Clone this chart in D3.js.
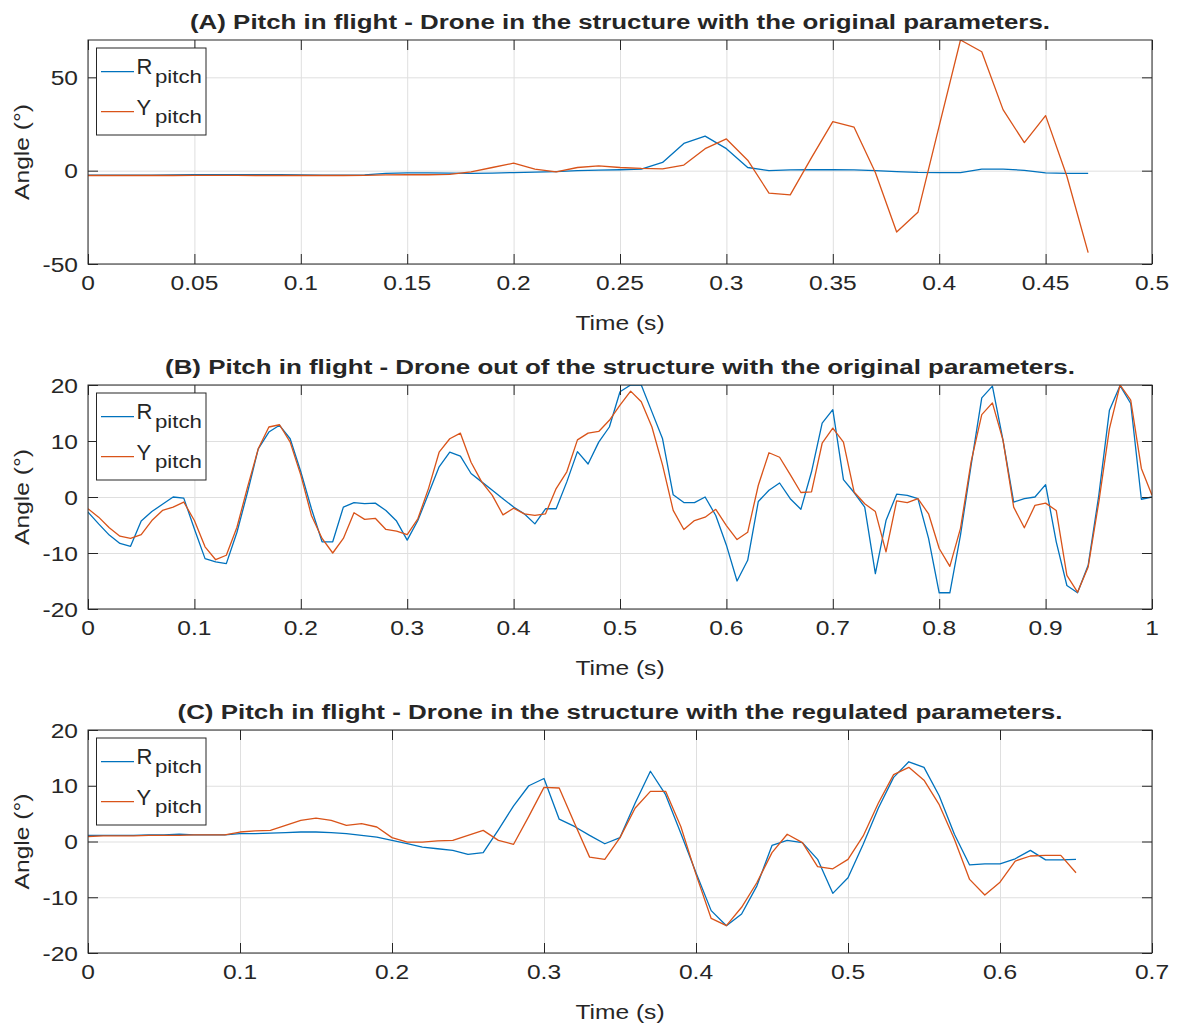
<!DOCTYPE html>
<html>
<head>
<meta charset="utf-8">
<script src="https://cdn.jsdelivr.net/npm/d3@7"></script>
<style>
  html, body { margin: 0; padding: 0; background: #ffffff; }
  svg { display: block; }
  text { font-family: "Liberation Sans", Arial, Helvetica, sans-serif; fill: #262626; }
</style>
</head>
<body>
<svg id="chart" width="1179" height="1029"></svg>
<script>
// ---------------- DATA ----------------
const sampleStep = 0.01;
const seriesNames = ["R", "Y"];
const subscript = "pitch";
const axisLabelX = "Time (s)";
const axisLabelY = "Angle (°)";

const titleA = "(A) Pitch in flight - Drone in the structure with the original parameters.";
const titleB = "(B) Pitch in flight - Drone out of the structure with the original parameters.";
const titleC = "(C) Pitch in flight - Drone in the structure with the regulated parameters.";

// Panel A (t = 0 .. 0.47 s)
const rPitchA = [-2.4,-2.4,-2.4,-2.4,-2.3,-2.1,-2.1,-2.1,-2.1,-2.2,-2.3,-2.4,-2.4,-2.3,
  -1.5,-1.2,-1.2,-1.3,-1.5,-1.3,-1.0,-0.8,-0.5,0.0,0.3,0.5,0.8,4.4,14.6,18.5,11.8,1.7,0.0,
  0.4,0.5,0.5,0.4,0.0,-0.5,-0.9,-1.0,-1.0,0.8,0.8,0.2,-1.2,-1.4,-1.4];
const yPitchA = [-2.6,-2.6,-2.6,-2.6,-2.6,-2.5,-2.5,-2.5,-2.6,-2.6,-2.6,-2.6,-2.6,-2.5,
  -2.3,-2.2,-2.2,-2.0,-0.6,1.7,4.0,0.8,-0.6,1.7,2.6,1.7,1.2,1.0,3.0,11.8,17.0,5.6,-12.0,
  -13.0,7.0,26.3,23.3,-1.0,-32.9,-22.3,24.0,70.0,63.7,32.7,15.0,29.5,-3.0,-43.9];

// Panel B (t = 0 .. 1.00 s)
const rPitchB = [-2.7,-4.8,-6.8,-8.3,-8.8,-4.3,-2.6,-1.3,0.0,-0.2,
  -5.7,-11.0,-11.6,-11.9,-6.3,0.9,8.6,11.6,12.8,10.4,
  4.5,-2.1,-8.0,-8.0,-1.8,-1.0,-1.2,-1.1,-2.4,-4.3,
  -7.7,-4.2,0.6,5.4,8.0,7.3,4.2,2.7,1.2,-0.3,
  -1.8,-3.0,-4.8,-2.1,-2.1,2.7,8.1,5.9,9.8,12.5,
  18.8,20.0,20.0,15.2,10.4,0.4,-1.0,-1.0,0.0,-3.3,
  -8.6,-15.0,-11.3,-0.8,1.2,2.5,-0.3,-2.2,4.5,13.2,
  15.6,3.1,0.8,-1.8,-13.7,-4.2,0.5,0.3,-0.3,-7.4,
  -17.1,-17.1,-6.8,5.7,17.7,19.8,10.1,-0.9,-0.3,0.0,
  2.2,-8.0,-15.8,-17.1,-12.2,0.3,15.5,19.9,16.7,-0.4,0.0];
const yPitchB = [-2.1,-3.6,-5.5,-7.0,-7.4,-6.7,-4.2,-2.4,-1.8,-0.9,
  -4.2,-8.9,-11.2,-10.4,-5.4,1.8,8.6,12.5,12.9,9.8,
  3.9,-3.3,-7.4,-10.0,-7.4,-2.8,-4.0,-3.8,-5.8,-6.1,
  -6.7,-3.9,1.5,8.0,10.4,11.4,6.2,2.7,0.3,-3.2,
  -2.0,-3.0,-3.3,-3.0,1.5,4.5,10.2,11.4,11.7,13.7,
  16.4,18.9,17.0,12.5,5.7,-2.4,-5.8,-4.2,-3.6,-2.2,
  -5.1,-7.6,-6.3,2.1,7.9,7.1,4.0,0.8,0.9,9.6,
  12.3,9.8,0.9,-1.2,-2.6,-9.8,-0.7,-1.0,-0.3,-3.0,
  -9.2,-12.4,-5.6,6.3,14.7,16.8,10.1,-1.8,-5.5,-1.5,
  -1.1,-2.4,-14.0,-17.0,-12.5,-0.9,12.2,20.0,17.3,5.1,0.3];

// Panel C (t = 0 .. 0.65 s)
const rPitchC = [1.1,1.1,1.1,1.1,1.2,1.2,1.3,1.2,1.2,1.2,
  1.4,1.4,1.5,1.6,1.7,1.7,1.6,1.4,1.1,0.8,
  0.2,-0.4,-1.0,-1.3,-1.6,-2.3,-2.0,2.1,6.4,10.0,
  11.3,4.0,2.7,1.1,-0.4,0.7,6.9,12.6,8.4,1.5,
  -5.6,-12.4,-15.1,-13.0,-8.0,-0.7,0.2,-0.2,-3.2,-9.3,
  -6.5,-0.5,6.0,11.5,14.3,13.3,8.2,1.3,-4.2,-4.0,
  -4.0,-3.1,-1.6,-3.3,-3.3,-3.2];
const yPitchC = [0.9,1.0,1.0,1.0,1.1,1.1,1.1,1.2,1.2,1.2,
  1.7,1.9,2.0,2.9,3.8,4.2,3.8,2.9,3.2,2.6,
  0.7,-0.1,-0.1,0.1,0.2,1.1,2.0,0.2,-0.5,4.5,
  9.7,9.6,3.3,-2.8,-3.2,0.7,6.0,9.0,9.0,2.7,
  -5.9,-13.8,-15.1,-11.8,-7.4,-2.0,1.3,-0.2,-4.5,-4.9,
  -3.2,1.0,6.9,12.0,13.3,11.0,6.6,0.4,-6.8,-9.6,
  -7.3,-3.5,-2.6,-2.5,-2.5,-5.6];

// Axis ranges and ticks
const xDomainA = [0, 0.5],  yDomainA = [-50, 70];
const xDomainB = [0, 1],    yDomainB = [-20, 20];
const xDomainC = [0, 0.7],  yDomainC = [-20, 20];
const xTicksA = [0,0.05,0.1,0.15,0.2,0.25,0.3,0.35,0.4,0.45,0.5];
const xTickLabelsA = ["0","0.05","0.1","0.15","0.2","0.25","0.3","0.35","0.4","0.45","0.5"];
const yTicksA = [-50, 0, 50];
const xTicksB = [0,0.1,0.2,0.3,0.4,0.5,0.6,0.7,0.8,0.9,1];
const xTickLabelsB = ["0","0.1","0.2","0.3","0.4","0.5","0.6","0.7","0.8","0.9","1"];
const yTicksB = [-20,-10,0,10,20];
const xTicksC = [0,0.1,0.2,0.3,0.4,0.5,0.6,0.7];
const xTickLabelsC = ["0","0.1","0.2","0.3","0.4","0.5","0.6","0.7"];
const yTicksC = [-20,-10,0,10,20];

// ---------------- STYLE / LAYOUT ----------------
const colR = "#0072BD", colY = "#D95319";
const axisCol = "#262626", gridCol = "#dfdfdf";
const plotLeft = 88, plotRight = 1152;
const stretch = 1.17;

const panels = [
  {title: titleA, titleW: 860, r: rPitchA, y: yPitchA, xd: xDomainA, yd: yDomainA,
   xt: xTicksA, xl: xTickLabelsA, yt: yTicksA, top: 40, bottom: 264},
  {title: titleB, titleW: 910, r: rPitchB, y: yPitchB, xd: xDomainB, yd: yDomainB,
   xt: xTicksB, xl: xTickLabelsB, yt: yTicksB, top: 385, bottom: 609},
  {title: titleC, titleW: 885, r: rPitchC, y: yPitchC, xd: xDomainC, yd: yDomainC,
   xt: xTicksC, xl: xTickLabelsC, yt: yTicksC, top: 730, bottom: 953}
];

const svg = d3.select("#chart");
svg.append("rect").attr("width", 1179).attr("height", 1029).attr("fill", "#fff");

function sText(parent, x, y, str, opts = {}) {
  const g = parent.append("g")
    .attr("transform", `translate(${x},${y})` + (opts.rotate ? ` rotate(${opts.rotate})` : "") + ` scale(${opts.sx || stretch},1)`);
  const t = g.append("text")
    .attr("x", 0).attr("y", 0)
    .attr("text-anchor", opts.anchor || "start")
    .attr("font-size", opts.size || 21)
    .attr("font-weight", opts.weight || "normal")
    .text(str);
  return t;
}

panels.forEach((p, pi) => {
  const g = svg.append("g");
  const x = d3.scaleLinear().domain(p.xd).range([plotLeft, plotRight]);
  const y = d3.scaleLinear().domain(p.yd).range([p.bottom, p.top]);
  const cx = (plotLeft + plotRight) / 2;

  // clip
  const clipId = "clip" + pi;
  svg.append("clipPath").attr("id", clipId).append("rect")
    .attr("x", plotLeft).attr("y", p.top).attr("width", plotRight - plotLeft).attr("height", p.bottom - p.top);

  // grid
  g.append("g").attr("transform", `translate(0,${p.bottom})`)
    .call(d3.axisBottom(x).tickValues(p.xt).tickSize(-(p.bottom - p.top)).tickFormat(""))
    .call(s => { s.select(".domain").remove(); s.selectAll("line").attr("stroke", gridCol).attr("stroke-width", 1); });
  g.append("g").attr("transform", `translate(${plotLeft},0)`)
    .call(d3.axisLeft(y).tickValues(p.yt).tickSize(-(plotRight - plotLeft)).tickFormat(""))
    .call(s => { s.select(".domain").remove(); s.selectAll("line").attr("stroke", gridCol).attr("stroke-width", 1); });

  // data lines
  const line = d3.line().x((d, i) => x(i * sampleStep)).y(d => y(d));
  const dg = g.append("g").attr("clip-path", `url(#${clipId})`);
  dg.append("path").datum(p.r).attr("d", line).attr("fill", "none").attr("stroke", colR).attr("stroke-width", 1.3).attr("stroke-linejoin", "round");
  dg.append("path").datum(p.y).attr("d", line).attr("fill", "none").attr("stroke", colY).attr("stroke-width", 1.3).attr("stroke-linejoin", "round");

  // ticks (inward, all four sides)
  const tk = 10;
  const styleAxis = s => { s.select(".domain").remove(); s.selectAll("line").attr("stroke", axisCol).attr("stroke-width", 1); };
  g.append("g").attr("transform", `translate(0,${p.bottom})`)
    .call(d3.axisBottom(x).tickValues(p.xt).tickSize(-tk).tickFormat("")).call(styleAxis);
  g.append("g").attr("transform", `translate(0,${p.top})`)
    .call(d3.axisTop(x).tickValues(p.xt).tickSize(-tk).tickFormat("")).call(styleAxis);
  g.append("g").attr("transform", `translate(${plotLeft},0)`)
    .call(d3.axisLeft(y).tickValues(p.yt).tickSize(-tk).tickFormat("")).call(styleAxis);
  g.append("g").attr("transform", `translate(${plotRight},0)`)
    .call(d3.axisRight(y).tickValues(p.yt).tickSize(-tk).tickFormat("")).call(styleAxis);

  // box
  g.append("rect").attr("x", plotLeft).attr("y", p.top)
    .attr("width", plotRight - plotLeft).attr("height", p.bottom - p.top)
    .attr("fill", "none").attr("stroke", axisCol).attr("stroke-width", 1);

  // tick labels
  p.xt.forEach((v, i) => sText(g, x(v), p.bottom + 26, p.xl[i], {anchor: "middle"}));
  p.yt.forEach(v => sText(g, plotLeft - 10, y(v) + 7.5, String(v).replace("-", "-"), {anchor: "end"}));

  // axis labels
  sText(g, cx, p.bottom + 66, axisLabelX, {anchor: "middle"});
  sText(g, 29, (p.top + p.bottom) / 2, axisLabelY, {anchor: "middle", rotate: -90});

  // title
  g.append("text").attr("x", cx).attr("y", p.top - 11)
    .attr("text-anchor", "middle").attr("font-size", 20).attr("font-weight", "bold")
    .attr("fill", "#000")
    .attr("textLength", p.titleW).attr("lengthAdjust", "spacingAndGlyphs")
    .text(p.title);

  // legend
  const lg = g.append("g");
  const lx = 96.5, ly = p.top + 8;
  lg.append("rect").attr("x", lx).attr("y", ly).attr("width", 109.5).attr("height", 87)
    .attr("fill", "#fff").attr("stroke", axisCol).attr("stroke-width", 1);
  [colR, colY].forEach((c, i) => {
    const yy = ly + 23.7 + i * 40;
    lg.append("line").attr("x1", lx + 4.5).attr("x2", lx + 37.5).attr("y1", yy).attr("y2", yy)
      .attr("stroke", c).attr("stroke-width", 1.3);
    sText(lg, lx + 40, yy + 2 + i * 1.5, seriesNames[i], {size: 22, sx: 1.0});
    sText(lg, lx + 58.5, yy + 11.5, subscript, {size: 19, sx: 1.17});
  });
});
</script>
</body>
</html>
